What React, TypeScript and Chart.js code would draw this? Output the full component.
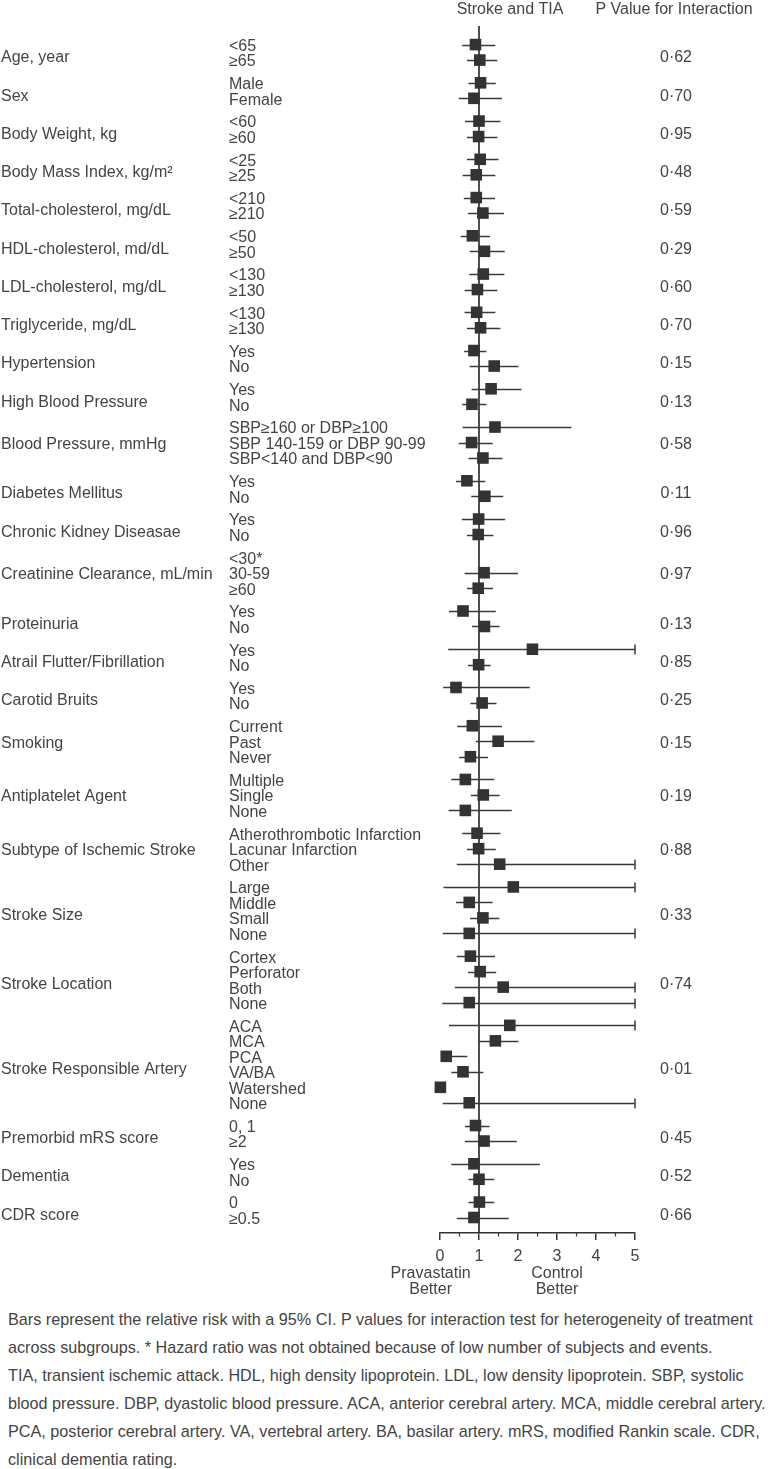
import React, { useEffect, useRef } from 'react';
import { Chart, registerables } from 'chart.js';

Chart.register(...registerables);

// ---------------- data ----------------
const groups = [
  'Age, year', 'Sex', 'Body Weight, kg', 'Body Mass Index, kg/m²', 'Total-cholesterol, mg/dL',
  'HDL-cholesterol, md/dL', 'LDL-cholesterol, mg/dL', 'Triglyceride, mg/dL', 'Hypertension',
  'High Blood Pressure', 'Blood Pressure, mmHg', 'Diabetes Mellitus', 'Chronic Kidney Diseasae',
  'Creatinine Clearance, mL/min', 'Proteinuria', 'Atrail Flutter/Fibrillation', 'Carotid Bruits',
  'Smoking', 'Antiplatelet Agent', 'Subtype of Ischemic Stroke', 'Stroke Size', 'Stroke Location',
  'Stroke Responsible Artery', 'Premorbid mRS score', 'Dementia', 'CDR score',
];
const groupSizes = [2, 2, 2, 2, 2, 2, 2, 2, 2, 2, 3, 2, 2, 3, 2, 2, 2, 3, 3, 3, 4, 4, 6, 2, 2, 2];
const pValues = [
  '0·62', '0·70', '0·95', '0·48', '0·59', '0·29', '0·60', '0·70', '0·15', '0·13', '0·58', '0·11', '0·96',
  '0·97', '0·13', '0·85', '0·25', '0·15', '0·19', '0·88', '0·33', '0·74', '0·01', '0·45', '0·52', '0·66',
];
const subgroups = [
  '<65', '≥65', 'Male', 'Female', '<60', '≥60', '<25', '≥25', '<210', '≥210', '<50', '≥50',
  '<130', '≥130', '<130', '≥130', 'Yes', 'No', 'Yes', 'No',
  'SBP≥160 or DBP≥100', 'SBP 140-159 or DBP 90-99', 'SBP<140 and DBP<90',
  'Yes', 'No', 'Yes', 'No', '<30*', '30-59', '≥60', 'Yes', 'No', 'Yes', 'No', 'Yes', 'No',
  'Current', 'Past', 'Never', 'Multiple', 'Single', 'None',
  'Atherothrombotic Infarction', 'Lacunar Infarction', 'Other',
  'Large', 'Middle', 'Small', 'None', 'Cortex', 'Perforator', 'Both', 'None',
  'ACA', 'MCA', 'PCA', 'VA/BA', 'Watershed', 'None', '0, 1', '≥2', 'Yes', 'No', '0', '≥0.5',
];
const riskRatio = [
  0.91, 1.02, 1.04, 0.87, 1.0, 0.99, 1.03, 0.93, 0.93, 1.1, 0.83, 1.14,
  1.11, 0.96, 0.94, 1.04, 0.87, 1.39, 1.31, 0.82,
  1.41, 0.81, 1.1,
  0.69, 1.15, 0.99, 0.98, null, 1.13, 0.98, 0.59, 1.14, 2.37, 0.99, 0.41, 1.08,
  0.83, 1.49, 0.78, 0.65, 1.11, 0.65,
  0.95, 0.99, 1.53,
  1.88, 0.75, 1.1, 0.75, 0.78, 1.03, 1.62, 0.75,
  1.79, 1.42, 0.16, 0.59, 0.01, 0.75, 0.91, 1.13, 0.87, 1.0, 1.01, 0.87,
];
const ciLow = [
  0.57, 0.69, 0.73, 0.48, 0.64, 0.69, 0.69, 0.58, 0.61, 0.72, 0.53, 0.76,
  0.75, 0.63, 0.63, 0.69, 0.62, 0.76, 0.81, 0.57,
  0.58, 0.48, 0.73,
  0.41, 0.8, 0.56, 0.69, null, 0.63, 0.69, 0.23, 0.82, 0.21, 0.72, 0.08, 0.78,
  0.44, 0.92, 0.49, 0.29, 0.79, 0.22,
  0.57, 0.69, 0.43,
  0.09, 0.41, 0.77, 0.07, 0.43, 0.72, 0.38, 0.06,
  0.23, 0.98, 0.05, 0.29, null, 0.07, 0.64, 0.64, 0.29, 0.73, 0.73, 0.43,
];
const ciHigh = [
  1.42, 1.47, 1.43, 1.59, 1.55, 1.47, 1.5, 1.42, 1.41, 1.64, 1.28, 1.66,
  1.65, 1.47, 1.42, 1.55, 1.19, 2.01, 2.09, 1.19,
  3.37, 1.35, 1.6,
  1.16, 1.62, 1.67, 1.37, null, 2.0, 1.36, 1.43, 1.53, 5, 1.3, 2.3, 1.45,
  1.59, 2.42, 1.23, 1.39, 1.53, 1.84,
  1.55, 1.43, 5,
  5, 1.35, 1.52, 5, 1.41, 1.44, 5, 5,
  5, 2.01, 0.7, 1.11, null, 5, 1.27, 1.97, 2.56, 1.39, 1.39, 1.76,
];
const xTicks = [0, 1, 2, 3, 4, 5];
const footnote = [
  'Bars represent the relative risk with a 95% CI. P values for interaction test for heterogeneity of treatment',
  'across subgroups. * Hazard ratio was not obtained because of low number of subjects and events.',
  'TIA, transient ischemic attack. HDL, high density lipoprotein. LDL, low density lipoprotein. SBP, systolic',
  'blood pressure. DBP, dyastolic blood pressure. ACA, anterior cerebral artery. MCA, middle cerebral artery.',
  'PCA, posterior cerebral artery. VA, vertebral artery. BA, basilar artery. mRS, modified Rankin scale. CDR,',
  'clinical dementia rating.',
];

// ---------------- layout helpers ----------------
const FONT = '"Liberation Sans", Arial, Helvetica, sans-serif';
const TEXT = '#444';
const GAP = 0.47;
const CANVAS_W = 771;
const CANVAS_H = 1300;
const AXIS_H = 67;
const TEXT_DY = 2;

const rowGroup: number[] = [];
groupSizes.forEach((n, g) => {
  for (let k = 0; k < n; k++) rowGroup.push(g);
});
const rowPos = rowGroup.map((g, i) => i + g * GAP);
const groupStart: number[] = [];
{
  let s = 0;
  groupSizes.forEach((n) => {
    groupStart.push(s);
    s += n;
  });
}
const groupPos = groupSizes.map((n, g) => {
  const first = rowPos[groupStart[g]];
  const last = rowPos[groupStart[g] + n - 1];
  return (first + last) / 2 + (n % 2 === 0 ? 0.23 : 0);
});
const lastPos = rowPos[rowPos.length - 1];

const forestPlugin = {
  id: 'forest',
  beforeDatasetsDraw(chart: any) {
    const { ctx, chartArea, scales } = chart;
    const x = scales.x;
    const y = scales.y;
    ctx.save();
    const x1 = x.getPixelForValue(1);
    ctx.strokeStyle = '#222';
    ctx.lineWidth = 1.6;
    ctx.beginPath();
    ctx.moveTo(x1, chartArea.top);
    ctx.lineTo(x1, chartArea.bottom);
    ctx.stroke();

    ctx.strokeStyle = '#3a3a3a';
    ctx.lineWidth = 1.5;
    rowPos.forEach((p, i) => {
      const lo = ciLow[i];
      const hi = ciHigh[i];
      if (lo == null || hi == null) return;
      const py = Math.round(y.getPixelForValue(p)) + 0.5;
      const a = x.getPixelForValue(lo);
      const b = x.getPixelForValue(hi);
      ctx.beginPath();
      ctx.moveTo(a, py);
      ctx.lineTo(b, py);
      ctx.stroke();
      if (hi >= 5) {
        ctx.beginPath();
        ctx.moveTo(b, py - 5);
        ctx.lineTo(b, py + 5);
        ctx.stroke();
      }
    });
    ctx.restore();
  },
  afterDraw(chart: any) {
    const { ctx, chartArea, scales } = chart;
    const x = scales.x;
    const y = scales.y;
    ctx.save();
    // minor ticks
    ctx.strokeStyle = '#333';
    ctx.lineWidth = 1.2;
    for (let k = 0; k < xTicks.length - 1; k++) {
      const px = x.getPixelForValue((xTicks[k] + xTicks[k + 1]) / 2);
      ctx.beginPath();
      ctx.moveTo(px, chartArea.bottom);
      ctx.lineTo(px, chartArea.bottom + 3.5);
      ctx.stroke();
    }

    ctx.fillStyle = TEXT;
    ctx.font = `16px ${FONT}`;
    ctx.textBaseline = 'middle';
    // headers
    ctx.textAlign = 'center';
    ctx.fillText('Stroke and TIA', 510, chartArea.top - 16);
    ctx.fillText('P Value for Interaction', 674, chartArea.top - 16);

    // group labels & p values
    groups.forEach((g, i) => {
      const py = y.getPixelForValue(groupPos[i]) + TEXT_DY;
      ctx.textAlign = 'left';
      ctx.fillText(g, 1, py);
      ctx.textAlign = 'center';
      ctx.fillText(pValues[i], 676, py);
    });
    // subgroup labels
    ctx.textAlign = 'left';
    subgroups.forEach((s, i) => {
      ctx.fillText(s, 229, y.getPixelForValue(rowPos[i]) + TEXT_DY);
    });

    // direction labels
    ctx.textAlign = 'center';
    const yb = chartArea.bottom;
    const pl = x.getPixelForValue(-0.24);
    const pr = x.getPixelForValue(3.0);
    ctx.fillText('Pravastatin', pl, yb + 41);
    ctx.fillText('Better', pl, yb + 56.5);
    ctx.fillText('Control', pr, yb + 41);
    ctx.fillText('Better', pr, yb + 56.5);
    ctx.restore();
  },
};

export default function App() {
  const ref = useRef<HTMLCanvasElement | null>(null);

  useEffect(() => {
    if (!ref.current) return;
    const points = rowPos
      .map((p, i) => ({ x: riskRatio[i], y: p }))
      .filter((d) => d.x != null);
    const chart = new Chart(ref.current, {
      type: 'scatter',
      data: {
        datasets: [
          {
            data: points as any,
            pointStyle: 'rect',
            pointRadius: 8.2,
            pointBorderWidth: 0,
            pointBackgroundColor: '#333',
            pointBorderColor: '#333',
            clip: false as any,
          },
        ],
      },
      options: {
        responsive: false,
        animation: false,
        devicePixelRatio: 1,
        layout: { padding: { left: 440, right: 136, top: 26, bottom: 0 } },
        plugins: {
          legend: { display: false },
          tooltip: { enabled: false },
        },
        scales: {
          x: {
            type: 'linear',
            min: 0,
            max: 5,
            afterFit: (scale: any) => {
              scale.height = AXIS_H;
            },
            afterBuildTicks: (scale: any) => {
              scale.ticks = xTicks.map((v) => ({ value: v }));
            },
            ticks: {
              color: TEXT,
              font: { family: FONT, size: 16 },
              padding: 7,
              maxRotation: 0,
              callback: (v: any) => String(v),
            },
            grid: {
              drawOnChartArea: false,
              drawTicks: true,
              tickLength: 7,
              color: '#333',
              tickColor: '#333',
              lineWidth: 1.5,
            },
            border: { display: true, color: '#333', width: 1.5 },
          },
          y: {
            type: 'linear',
            display: false,
            reverse: true,
            min: -1.2,
            max: lastPos + 1.0,
          },
        },
      },
      plugins: [forestPlugin],
    });
    return () => chart.destroy();
  }, []);

  return (
    <div style={{ position: 'absolute', left: 0, top: 0, width: CANVAS_W, height: 1469 }}>
      <canvas
        ref={ref}
        width={CANVAS_W}
        height={CANVAS_H}
        style={{ position: 'absolute', left: 0, top: 0, width: CANVAS_W, height: CANVAS_H }}
      />
      <div
        style={{
          position: 'absolute',
          left: 8,
          top: 1305,
          fontFamily: FONT,
          fontSize: 16.2,
          lineHeight: '28px',
          color: TEXT,
          whiteSpace: 'nowrap',
        }}
      >
        {footnote.map((l, i) => (
          <div key={i}>{l}</div>
        ))}
      </div>
    </div>
  );
}
